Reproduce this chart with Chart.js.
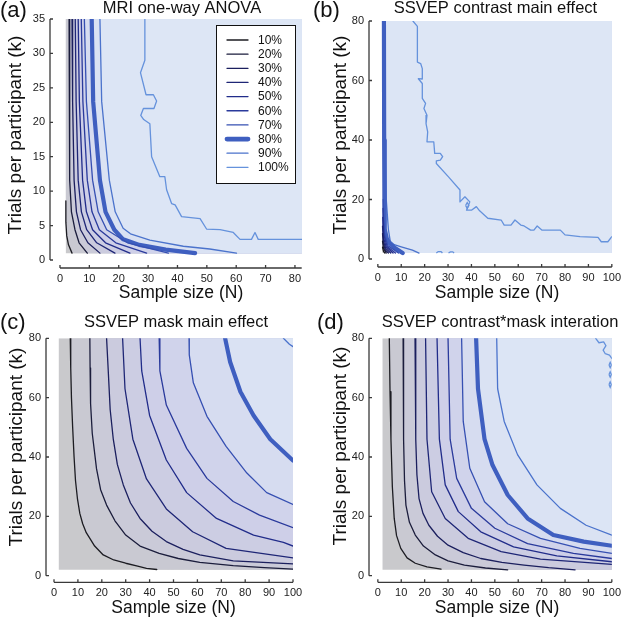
<!DOCTYPE html>
<html>
<head>
<meta charset="utf-8">
<script src="https://cdn.jsdelivr.net/npm/chart.js@4"></script>
<style>
  body { margin: 0; background: #fff; width: 625px; height: 617px; position: relative; overflow: hidden; }
  canvas { position: absolute; }
</style>
</head>
<body>
<canvas id="ca" width="310" height="305" style="left:0;top:0"></canvas>
<canvas id="cb" width="315" height="305" style="left:310px;top:0"></canvas>
<canvas id="cc" width="310" height="312" style="left:0;top:305px"></canvas>
<canvas id="cd" width="315" height="312" style="left:310px;top:305px"></canvas>
<script>
// power levels shown by the contour lines
const levels = ['10%', '20%', '30%', '40%', '50%', '60%', '70%', '80%', '90%', '100%'];

// tick labels
const mriXTicks = [0, 10, 20, 30, 40, 50, 60, 70, 80];
const mriYTicks = [0, 5, 10, 15, 20, 25, 30, 35];
const ssvepXTicks = [0, 10, 20, 30, 40, 50, 60, 70, 80, 90, 100];
const ssvepYTicks = [0, 20, 40, 60, 80];

// contour lines, [N, k] points, one list per level (10% .. 100%)
const mriLines = [
  [[2.0, 8.6], [2.0, 5.5], [2.3, 3.5], [2.9, 2.2], [4.1, 1]],
  [[3.1, 35], [3.2, 23], [3.4, 11.6], [3.9, 7], [5.1, 4.4], [6.5, 2.5], [9.3, 1]],
  [[4.1, 35], [4.3, 23], [4.8, 11.6], [5.6, 7], [7.0, 4.4], [9.5, 2.5], [13.6, 1]],
  [[5.2, 35], [5.5, 23], [6.2, 11.6], [7.3, 7], [9.1, 4.4], [12.5, 2.5], [18.7, 1]],
  [[6.2, 35], [6.6, 23], [7.7, 11.6], [9.0, 7], [11.1, 4.4], [15.5, 2.5], [23.8, 1]],
  [[7.25, 35], [7.8, 23], [9.3, 11.6], [10.9, 7], [13.4, 4.4], [19, 2.5], [29.5, 1]],
  [[8.3, 35], [9.0, 23], [11.1, 11.6], [13, 7], [15.9, 4.4], [23, 2.5], [36.9, 1]],
  [[10.8, 35], [11.3, 23], [13.6, 11.6], [15.5, 7], [18.5, 4.4], [21.5, 3], [27, 2.2], [36, 1.5], [46, 1]],
  [[13.6, 35], [14.2, 23], [16.8, 11.6], [18.8, 7], [21.5, 4.6], [24, 3.8], [30.6, 2.9], [42, 2.0], [51, 1.6], [60.1, 1]],
  [[28.9, 35], [28.9, 29], [27.4, 27.2], [29.3, 24], [31.8, 24], [32.9, 23.1], [32, 22], [28.4, 22], [27.5, 21],
   [28.5, 20.4], [30.6, 19.8], [31.2, 15], [34, 12.1], [35.7, 12.1], [36.3, 10.2], [38, 8.2], [39.2, 8], [41.4, 6.3],
   [47.7, 6.0], [49.9, 4.5], [54.5, 4.4], [59, 4.0], [61.3, 3.0], [65.2, 3.0], [66.4, 4.0], [67.5, 3.0], [82.3, 3.0]]
];

const contrastLines = [
  [[2.0, 4], [2.4, 2.6], [3.0, 2]],
  [[2.0, 6], [2.4, 3.6], [3.6, 2]],
  [[2.0, 8.5], [2.4, 5], [3.2, 3], [4.5, 2]],
  [[2.0, 11], [2.4, 6], [3.4, 3.5], [5.5, 2]],
  [[2.1, 14], [2.5, 7], [3.6, 4], [6.5, 2]],
  [[2.2, 17], [2.6, 8], [4.0, 4.2], [7.5, 2]],
  [[2.3, 20], [2.7, 9], [4.3, 4.5], [8.8, 2]],
  [[2.6, 80], [2.7, 40], [2.9, 20], [3.0, 10], [3.8, 7], [5.0, 5.3], [7.5, 3.6], [10.6, 2]],
  [[2.9, 80], [3.0, 40], [3.6, 20], [4.5, 10], [5.3, 6], [7, 4.8], [10, 4.1], [14.8, 3.0], [17.6, 2]],
  [[15, 80], [16.9, 78.2], [16.9, 66.2], [18.3, 65.7], [19, 64], [19, 60.5], [17.3, 60.6], [19, 59], [19, 54],
   [20.4, 52.3], [19.7, 50.6], [21, 48.3], [20.6, 45.5], [21.3, 42.7], [21, 39.4], [23.9, 39.4], [24.3, 35.5],
   [26.7, 35.5], [27.7, 34.4], [26.7, 33.2], [25, 33], [25, 32.1], [30.2, 27.6], [35.1, 23.2], [35.1, 19.2],
   [37.2, 20.9], [39.3, 19.2], [37.9, 16.4], [40, 16.4], [42.1, 17.6], [43.5, 16.2], [47, 13.7], [52.7, 13.1],
   [54, 11.4], [56.9, 11.4], [58.6, 13.1], [61.1, 11.4], [62.5, 11.1], [65.3, 9.7], [66.7, 9.7], [68.1, 11.1],
   [70.2, 9.7], [78, 9.7], [80, 8.1], [86.4, 7.5], [94.1, 7.3], [95.5, 5.8], [98.3, 5.8], [100, 7.5]]
];
// small closed 100% contours
const contrastIslands = [
  [[37.5, 18], [38.2, 19], [38.9, 18], [38.2, 17], [37.5, 18]],
  [[25, 2], [25.8, 2.5], [27, 2.5], [27.6, 2]],
  [[30.2, 2], [31, 2.4], [32, 2.4], [32.6, 2]]
];

const maskLines = [
  [[6.8, 80], [7.0, 70], [7.3, 60], [7.8, 50], [8.4, 40], [9.0, 32], [9.8, 26], [10.8, 21], [12, 17.5], [13.5, 14.5],
   [15, 12.6], [17, 10], [20.6, 7], [25, 5.3], [30, 4.2], [35, 3.2], [38.7, 2.5], [43, 2.1]],
  [[15, 80], [15.1, 70], [15.3, 58], [16, 48], [17.8, 36], [19.5, 29], [22, 23.8], [25.5, 18.5], [30, 13.7], [36, 10],
   [44, 7.5], [52, 5.8], [61, 4.5], [75, 3.4], [88, 2.7], [100, 2.2]],
  [[22, 80], [22.7, 69], [23.5, 56], [24.8, 46], [26.5, 37.5], [29, 30.6], [32, 24.5], [36, 19.3], [41, 15], [47, 11.5],
   [54, 8.9], [61, 7], [75, 5], [100, 4]],
  [[28.7, 80], [29.7, 63], [33, 46], [38.7, 32.6], [47, 22.5], [58, 14.8], [72, 9.2], [100, 6]],
  [[36, 80], [36.7, 69], [40, 54], [47, 39], [55.5, 28], [68, 19.3], [83.5, 13.7], [96, 11.2], [100, 10]],
  [[44, 80], [44.3, 69], [47, 57.5], [55.5, 42.9], [64, 32.8], [75, 25], [86, 20.4], [100, 16.2]],
  [[56.5, 80], [56.6, 74.4], [58.3, 65], [64, 53.7], [72, 43.6], [80.7, 34.6], [89, 28], [100, 24]],
  [[71.6, 80], [73.7, 72], [78, 62], [83.5, 54], [90.5, 46], [100, 38.8]],
  [[96, 80], [98.5, 78], [100, 77.2]],
  null
];

const interactionLines = [
  [[4.9, 80], [5.2, 62], [5.6, 46], [6.2, 30], [7, 19.3], [8, 13.5], [9.8, 9.2], [12.5, 6], [16, 4.2], [21, 3], [27, 2.2]],
  [[10.8, 80], [11, 46], [11.4, 32], [12, 23.8], [13.5, 18], [16, 13.7], [19.5, 10], [24.6, 7], [30, 5], [37, 3.6],
   [46, 2.6], [55.5, 2]],
  [[15.9, 80], [16.2, 46], [16.7, 34], [17.6, 26], [19.3, 21], [21.8, 17], [25.5, 13.3], [30, 10.3], [36.5, 7.8],
   [44, 5.8], [53, 4.5], [62.5, 3.6], [73, 2.7], [84.3, 2]],
  [[20.4, 80], [21, 46], [23, 28.3], [28.8, 19.3], [38.6, 12.6], [52.7, 8.1], [69.5, 5.6], [100, 3.8]],
  [[25.3, 80], [26.3, 46], [28.8, 30.6], [34.4, 21.6], [44, 14.8], [58, 9.7], [76.5, 6.7], [100, 4.7]],
  [[30, 80], [30.9, 46], [33.7, 32.8], [40, 22.7], [50, 16], [64, 10.8], [83.6, 7.5], [100, 5.8]],
  [[35.8, 80], [36.5, 52], [39.3, 36.2], [45.6, 24.9], [55.5, 17.5], [69.5, 12.6], [86.4, 9.2], [100, 7.5]],
  [[42, 80], [42.8, 63], [45.6, 46], [49, 37.3], [55.5, 27.2], [64, 19.3], [75, 13.7], [88, 11.5], [100, 10.1]],
  [[50.8, 80], [51.2, 63], [54, 52], [59.7, 40.8], [68, 30.6], [78, 22.7], [89, 17], [100, 13.7]],
  [[93.1, 80], [94.5, 78.5], [96.5, 78.8], [97.5, 77.5], [96.3, 76], [97.2, 74.8], [99, 74.3], [100, 73.2]]
];
const interactionIslands = [
  [[98.8, 71], [99.3, 71.9], [99.8, 71], [99.3, 70.1], [98.8, 71]],
  [[98.8, 67.8], [99.3, 68.7], [99.8, 67.8], [99.3, 66.9], [98.8, 67.8]],
  [[98.8, 64.4], [99.3, 65.3], [99.8, 64.4], [99.3, 63.5], [98.8, 64.4]]
];

const lineColors = ['#1c1c22', '#1b1d3c', '#1b1f5e', '#1e2676', '#212c8a', '#2a3a9c', '#3650b2', '#3f5fc0', '#4b73cc', '#6592dc'];
const lineWidths = [1.3, 1.3, 1.3, 1.3, 1.3, 1.3, 1.3, 4.2, 1.3, 1.3];
// fill below 10%, then at or above each level
const bandColors = ['#c9c9cc', '#c9c9d2', '#cacad8', '#cbcbde', '#cccde3', '#cecfe8', '#d0d3eb', '#d6dcf0',
                    '#dae2f3', '#dce5f5', '#dde6f5'];

const FONT = '"Liberation Sans", Arial, Helvetica, sans-serif';
const pts = arr => arr.map(([x, y]) => ({x, y}));

// region where power is at or above a level: the line closed round the high corner
function region(line, box) {
  const [xL, xR, yB, yT] = box;
  const first = line[0], last = line[line.length - 1];
  const pre = first[1] < yT - 0.01 ? [[xL, yT]] : [];
  const post = last[0] > xR - 0.01 ? [[xR, yT]] : [[xR, yB], [xR, yT]];
  return pre.concat(line, post);
}

const decor = {
  id: 'decor',
  afterDraw(chart, args, o) {
    const {ctx, chartArea: a, scales: {x, y}} = chart;
    ctx.save();
    ctx.strokeStyle = '#3a3a3a';
    ctx.lineWidth = 1.3;
    ctx.beginPath();
    ctx.moveTo(x.getPixelForValue(0), a.bottom);
    ctx.lineTo(x.getPixelForValue(o.xEnd), a.bottom);
    o.xTicks.forEach(v => {
      const p = x.getPixelForValue(v);
      ctx.moveTo(p, a.bottom);
      ctx.lineTo(p, a.bottom - 3);
    });
    ctx.moveTo(a.left, y.getPixelForValue(0));
    ctx.lineTo(a.left, y.getPixelForValue(o.yEnd));
    o.yTicks.forEach(v => {
      const p = y.getPixelForValue(v);
      ctx.moveTo(a.left, p);
      ctx.lineTo(a.left + 3, p);
    });
    ctx.stroke();

    ctx.fillStyle = '#111';
    ctx.textBaseline = 'alphabetic';
    ctx.textAlign = 'left';
    ctx.font = '22px ' + FONT;
    ctx.fillText(o.letter, o.letterX, o.letterY);
    ctx.textAlign = 'center';
    ctx.font = '16.5px ' + FONT;
    ctx.fillText(o.title, o.titleX, o.titleY);
    ctx.font = '17.5px ' + FONT;
    ctx.fillText('Sample size (N)', o.xTitleX, o.xTitleY);
    ctx.save();
    ctx.translate(o.yTitleX, o.yTitleY);
    ctx.rotate(-Math.PI / 2);
    ctx.textBaseline = 'middle';
    ctx.font = '19px ' + FONT;
    ctx.fillText('Trials per participant (k)', 0, 0);
    ctx.restore();

    if (o.legend) {
      const [lx, ly, lw, lh] = o.legend;
      ctx.fillStyle = '#fff';
      ctx.fillRect(lx, ly, lw, lh);
      ctx.strokeStyle = '#111';
      ctx.lineWidth = 1;
      ctx.strokeRect(lx + 0.5, ly + 0.5, lw, lh);
      ctx.font = '12px ' + FONT;
      ctx.textAlign = 'left';
      ctx.textBaseline = 'middle';
      ctx.lineCap = 'round';
      levels.forEach((lab, i) => {
        const ry = ly + 15 + i * 14.15;
        ctx.strokeStyle = lineColors[i];
        ctx.lineWidth = lineWidths[i] + (i === 7 ? 0.6 : 0);
        ctx.beginPath();
        ctx.moveTo(lx + 11, ry);
        ctx.lineTo(lx + 32, ry);
        ctx.stroke();
        ctx.fillStyle = '#111';
        ctx.fillText(lab, lx + 42, ry + 0.5);
      });
    }
    ctx.restore();
  }
};

function makePanel(id, p) {
  const [xL, xR, yB, yT] = p.box;
  const datasets = [];
  datasets.push({
    data: pts([[xL, yB], [xL, yT], [xR, yT], [xR, yB]]),
    backgroundColor: bandColors[0], borderColor: 'rgba(0,0,0,0)', borderWidth: 0,
    fill: 'shape', pointRadius: 0, order: 100
  });
  p.lines.forEach((ln, i) => {
    if (!ln) return;
    datasets.push({
      data: pts(region(ln, p.box)),
      backgroundColor: bandColors[i + 1], borderColor: 'rgba(0,0,0,0)', borderWidth: 0,
      fill: 'shape', pointRadius: 0, order: 90 - i
    });
  });
  p.lines.forEach((ln, i) => {
    if (!ln) return;
    datasets.push({
      label: levels[i], data: pts(ln), borderColor: lineColors[i], borderWidth: lineWidths[i],
      fill: false, pointRadius: 0, order: 0, borderCapStyle: 'round', borderJoinStyle: 'round'
    });
  });
  (p.islands || []).forEach(ln => {
    datasets.push({
      label: '100%', data: pts(ln), borderColor: lineColors[9], borderWidth: 1.3,
      fill: false, pointRadius: 0, order: 0
    });
  });

  const tickFont = {family: FONT, size: 11};
  return new Chart(document.getElementById(id), {
    type: 'line',
    data: {datasets},
    options: {
      responsive: false,
      animation: false,
      events: [],
      layout: {padding: {left: 0, top: p.area.top, right: p.area.right, bottom: 0}},
      elements: {line: {tension: 0}},
      scales: {
        x: {
          type: 'linear', min: p.xMin, max: p.xMax,
          grid: {display: false, drawTicks: false}, border: {display: false},
          ticks: {font: tickFont, color: '#222', padding: 4, maxRotation: 0, autoSkip: false},
          afterBuildTicks: s => { s.ticks = p.xTicks.map(v => ({value: v})); },
          afterFit: s => { s.height = p.area.xh; }
        },
        y: {
          type: 'linear', min: p.yMin, max: p.yMax,
          grid: {display: false, drawTicks: false}, border: {display: false},
          ticks: {font: tickFont, color: '#222', padding: 5, autoSkip: false},
          afterBuildTicks: s => { s.ticks = p.yTicks.map(v => ({value: v})); },
          afterFit: s => { s.width = p.area.yw; }
        }
      },
      plugins: {
        legend: {display: false},
        tooltip: {enabled: false},
        decor: Object.assign({xTicks: p.xTicks, yTicks: p.yTicks}, p.decor)
      }
    },
    plugins: [decor]
  });
}

makePanel('ca', {
  lines: mriLines, box: [2, 82.3, 1, 35],
  xMin: -3.4, xMax: 82.4, yMin: -1.16, yMax: 35,
  xTicks: mriXTicks, yTicks: mriYTicks,
  area: {top: 19, right: 8, yw: 50, xh: 37},
  decor: {xEnd: 82.3, yEnd: 35, letter: '(a)', letterX: 0, letterY: 17, title: 'MRI one-way ANOVA',
          titleX: 182, titleY: 13, xTitleX: 181, xTitleY: 298, yTitleX: 16, yTitleY: 135,
          legend: [216, 25, 79, 158]}
});

makePanel('cb', {
  lines: contrastLines, islands: contrastIslands, box: [2, 100, 2, 80],
  xMin: -3.78, xMax: 100, yMin: -2.69, yMax: 80,
  xTicks: ssvepXTicks, yTicks: ssvepYTicks,
  area: {top: 21, right: 9, yw: 59, xh: 38},
  decor: {xEnd: 100, yEnd: 80, letter: '(b)', letterX: 3, letterY: 17, title: 'SSVEP contrast main effect',
          titleX: 185.5, titleY: 13, xTitleX: 187, xTitleY: 298, yTitleX: 31, yTitleY: 135}
});

makePanel('cc', {
  lines: maskLines, box: [2, 100, 2, 80],
  xMin: -3.35, xMax: 100, yMin: -2.22, yMax: 80,
  xTicks: ssvepXTicks, yTicks: ssvepYTicks,
  area: {top: 33.3, right: 17, yw: 46, xh: 34.7},
  decor: {xEnd: 100, yEnd: 80, letter: '(c)', letterX: 0, letterY: 24, title: 'SSVEP mask main effect',
          titleX: 176, titleY: 22, xTitleX: 173.5, xTitleY: 308, yTitleX: 17, yTitleY: 142}
});

makePanel('cd', {
  lines: interactionLines, islands: interactionIslands, box: [2, 100, 2, 80],
  xMin: -3.78, xMax: 100, yMin: -2.22, yMax: 80,
  xTicks: ssvepXTicks, yTicks: ssvepYTicks,
  area: {top: 33.3, right: 9, yw: 59, xh: 34.7},
  decor: {xEnd: 100, yEnd: 80, letter: '(d)', letterX: 7, letterY: 24, title: 'SSVEP contrast*mask interation',
          titleX: 190, titleY: 22, xTitleX: 187, xTitleY: 308, yTitleX: 31, yTitleY: 141}
});
</script>
</body>
</html>
